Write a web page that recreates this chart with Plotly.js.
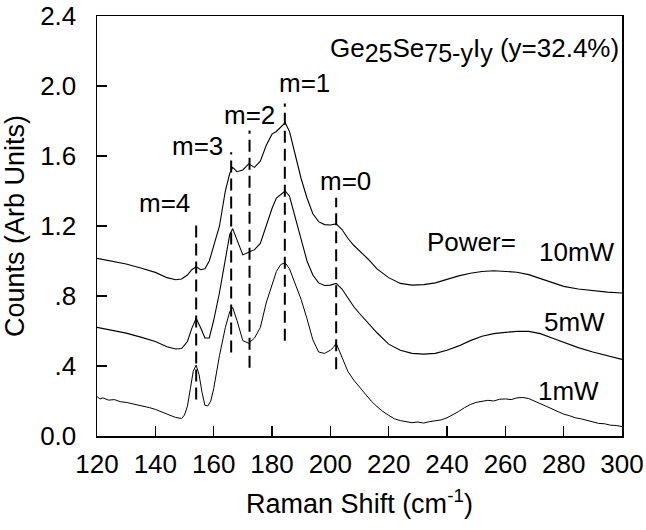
<!DOCTYPE html>
<html>
<head>
<meta charset="utf-8">
<script src="https://cdn.plot.ly/plotly-3.0.1.min.js"></script>
<style>html,body{margin:0;padding:0;background:#fff;}#chart{width:646px;height:530px;}</style>
</head>
<body>
<div id="chart"></div>
<script>
// Raman shift (cm^-1) for the 10 mW and 5 mW spectra
const ramanShift = [120,125,130,135,140,144,147,149,151,152.5,154,155.5,157,158.5,160,162,164,165.5,166.5,168,170,172,174,176,178,180,181.5,183,184.5,186,188,190,192,194,196,198,200,202,204,206,208,210,213,216,220,224,228,232,236,240,244,248,252,256,260,264,268,272,276,280,285,290,295,300];

const counts10mW = [1.015,1.00,0.983,0.96,0.935,0.905,0.893,0.897,0.92,0.95,0.967,0.95,0.955,1.00,1.08,1.20,1.40,1.50,1.535,1.51,1.52,1.555,1.535,1.57,1.66,1.725,1.74,1.765,1.79,1.74,1.60,1.47,1.36,1.27,1.225,1.208,1.206,1.212,1.18,1.13,1.09,1.06,1.01,0.955,0.905,0.872,0.862,0.865,0.875,0.895,0.915,0.93,0.94,0.944,0.942,0.936,0.922,0.90,0.875,0.855,0.84,0.83,0.822,0.817];

const counts5mW = [0.621,0.605,0.588,0.565,0.54,0.51,0.497,0.50,0.54,0.615,0.672,0.62,0.56,0.56,0.66,0.82,1.02,1.15,1.185,1.12,1.035,1.05,1.065,1.10,1.20,1.30,1.36,1.38,1.40,1.37,1.25,1.12,1.00,0.92,0.875,0.86,0.862,0.872,0.84,0.79,0.74,0.70,0.645,0.59,0.525,0.49,0.472,0.468,0.472,0.49,0.515,0.545,0.57,0.585,0.592,0.598,0.598,0.585,0.56,0.535,0.505,0.48,0.458,0.438];

// Raman shift (cm^-1) for the noisier 1 mW spectrum
const ramanShift1mW = [120,121,122,124,126,128,130,132,134,136,138,140,142,144,146,147,148,149,150,151,152,153,154,155,156,157,158,159,160,162,164,165.5,166.5,168,170,172,174,176,178,180,181.5,183,184.5,186,188,190,192,194,196,198,200,201,202,203,204,206,208,210,212,214,216,218,220,222,224,226,228,230,232,234,236,238,240,242,244,246,248,250,252,254,256,258,260,262,264,266,268,270,272,274,276,278,280,282,284,286,288,290,292,294,296,298,300];

const counts1mW = [0.225,0.212,0.218,0.205,0.208,0.196,0.192,0.185,0.178,0.168,0.162,0.152,0.138,0.122,0.112,0.106,0.104,0.10,0.12,0.17,0.27,0.37,0.405,0.35,0.25,0.175,0.172,0.20,0.27,0.46,0.62,0.71,0.735,0.66,0.545,0.53,0.56,0.62,0.76,0.87,0.94,0.98,0.99,0.955,0.87,0.78,0.67,0.55,0.48,0.472,0.49,0.505,0.53,0.49,0.44,0.37,0.32,0.28,0.24,0.20,0.168,0.14,0.118,0.098,0.088,0.084,0.076,0.08,0.074,0.082,0.085,0.092,0.104,0.12,0.14,0.162,0.18,0.192,0.197,0.204,0.2,0.21,0.212,0.208,0.218,0.22,0.214,0.2,0.188,0.17,0.155,0.14,0.125,0.116,0.104,0.098,0.088,0.082,0.072,0.07,0.062,0.06,0.054];

// Dashed markers for m = 4..0
const mLabels = ['m=4','m=3','m=2','m=1','m=0'];
const mShift  = [154, 166, 172.3, 184.4, 202];
const mTop    = [1.227, 1.621, 1.746, 1.90, 1.362];
const mBottom = [0.208, 0.477, 0.39, 0.544, 0.381];

const powerLabels = ['10mW','5mW','1mW'];
const SUBSZ = 'font-size:25px';
const sampleLabel = 'Ge<sub><span style="' + SUBSZ + '">25</span></sub>Se<sub><span style="' + SUBSZ + '">75-y</span></sub>I<sub><span style="' + SUBSZ + '">y</span></sub> (y=32.4%)';

const yTickVals = [0, 0.4, 0.8, 1.2, 1.6, 2.0, 2.4];
const yTickText = ['0.0', '.4', '.8', '1.2', '1.6', '2.0', '2.4'];
const xTickVals = [120,140,160,180,200,220,240,260,280,300];

const FONT = 'Liberation Sans, Arial, Helvetica, sans-serif';
const lineStyle = {color: '#000', width: 1.1};

const traces = [
  {x: ramanShift, y: counts10mW, mode: 'lines', line: lineStyle, name: powerLabels[0]},
  {x: ramanShift, y: counts5mW, mode: 'lines', line: lineStyle, name: powerLabels[1]},
  {x: ramanShift1mW, y: counts1mW, mode: 'lines', line: {color: '#000', width: 1}, name: powerLabels[2]}
];
for (let i = 0; i < mShift.length; i++) {
  traces.push({
    x: [mShift[i], mShift[i]], y: [mBottom[i], mTop[i]], mode: 'lines',
    line: {color: '#000', width: 2, dash: '12px,6px'}, name: mLabels[i]
  });
}

const AF = {size: 26, color: '#000', family: FONT};
const mLabelPos = [[143,1.333],[154.4,1.656],[172.3,1.837],[191.1,2.02],[205.3,1.46]];
const annotations = mLabels.map((t, i) => ({
  x: mLabelPos[i][0], y: mLabelPos[i][1], xref: 'x', yref: 'y', text: t,
  showarrow: false, font: AF
}));
annotations.push({x: 299.8, y: 2.205, xref: 'x', yref: 'y', text: sampleLabel, xanchor: 'right',
  showarrow: false, font: AF});
annotations.push({x: 248.4, y: 1.106, xref: 'x', yref: 'y', text: 'Power=',
  showarrow: false, font: AF});
const powerPos = [[284.4,1.054],[283.7,0.65],[281.6,0.256]];
powerLabels.forEach((t, i) => annotations.push({x: powerPos[i][0], y: powerPos[i][1], xref: 'x', yref: 'y', text: t,
  showarrow: false, font: AF}));

const layout = {
  width: 646, height: 530,
  margin: {l: 97, r: 24, t: 16, b: 94},
  paper_bgcolor: '#fff', plot_bgcolor: '#fff',
  showlegend: false,
  font: {family: FONT, color: '#000', size: 26},
  xaxis: {
    range: [120, 300], tickvals: xTickVals, ticks: 'inside', ticklen: 10, tickwidth: 1.5, tickcolor: '#000',
    showline: true, linecolor: '#000', linewidth: 1.5, mirror: true, showgrid: false, zeroline: false,
    tickfont: {size: 26, family: FONT}, ticklabelstandoff: 4,
    title: {text: 'Raman Shift (cm<sup>-1</sup>)', font: {size: 27, family: FONT}, standoff: 16}
  },
  yaxis: {
    range: [0, 2.4], tickvals: yTickVals, ticktext: yTickText, ticks: 'inside', ticklen: 10, tickwidth: 1.5, tickcolor: '#000',
    showline: true, linecolor: '#000', linewidth: 1.5, mirror: true, showgrid: false, zeroline: false,
    tickfont: {size: 26, family: FONT}, ticklabelstandoff: 14,
    title: {text: 'Counts (Arb Units)', font: {size: 27, family: FONT}, standoff: 8}
  },
  annotations: annotations
};

Plotly.newPlot('chart', traces, layout, {displayModeBar: false, staticPlot: true});
</script>
</body>
</html>
